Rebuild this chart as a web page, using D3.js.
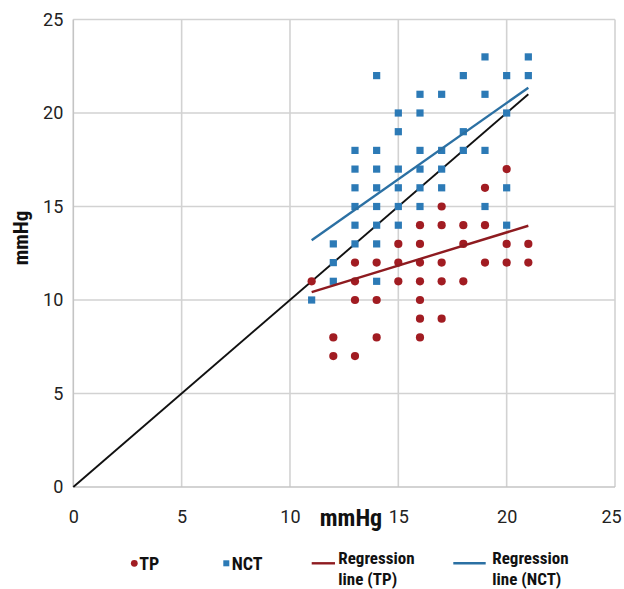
<!DOCTYPE html>
<html><head><meta charset="utf-8">
<script src="https://cdn.jsdelivr.net/npm/d3@7"></script>
<style>body{margin:0;background:#fff}</style>
</head><body>
<svg id="c" width="624" height="589"></svg>
<script>
// ---- data ----
const tpX = [11,12,12,13,13,13,13,14,14,14,15,15,15,16,16,16,16,16,16,16,17,17,17,17,17,18,18,18,19,19,19,20,20,20,21,21];
const tpY = [11, 8, 7,12,11,10, 7,12,10, 8,13,12,11,14,13,12,11,10, 9, 8,15,14,12,11, 9,14,13,11,16,14,12,17,13,12,13,12];
const nctX = [11,12,12,12,13,13,13,13,13,13,14,14,14,14,14,14,14,14,15,15,15,15,15,15,16,16,16,16,16,16,17,17,17,17,18,18,18,19,19,19,19,20,20,20,20,21,21];
const nctY = [10,13,12,11,18,17,16,15,14,13,22,18,17,16,15,14,13,11,20,19,17,16,15,14,21,20,18,17,16,15,21,18,17,16,22,19,18,23,21,18,15,22,20,16,14,23,22];
const regTPx = [11, 21];
const regTPy = [10.42, 13.97];
const regNCTx = [11, 21];
const regNCTy = [13.2, 21.35];
const identX = [0, 21];
const identY = [0, 21];
const xTicks = [0,5,10,15,20,25];
const yTicks = [0,5,10,15,20,25];
const axisTitle = "mmHg";
const legendNames = ["TP","NCT","Regression line (TP)","Regression line (NCT)"];

// ---- drawing ----
const svg = d3.select("#c");
const x = d3.scaleLinear().domain([0,25]).range([73.3,615]);
const y = d3.scaleLinear().domain([0,25]).range([487,19.5]);
const condensed = "'Liberation Sans Narrow','Roboto Condensed','DejaVu Sans Condensed',sans-serif";
const red = "#a11c22", blue = "#2c7ab6", redLine = "#8e1b20", blueLine = "#2b70a3";

// grid
const g = svg.append("g");
g.selectAll("line.v").data(xTicks.filter(d=>d>0)).join("line")
  .attr("x1",d=>x(d)).attr("x2",d=>x(d)).attr("y1",y(0)).attr("y2",y(25))
  .attr("stroke","#d2d2d2").attr("stroke-width",1.6);
g.selectAll("line.h").data(yTicks.filter(d=>d>0)).join("line")
  .attr("x1",x(0)).attr("x2",x(25)).attr("y1",d=>y(d)).attr("y2",d=>y(d))
  .attr("stroke","#d2d2d2").attr("stroke-width",1.6);
g.append("line").attr("x1",x(0)).attr("x2",x(0)).attr("y1",y(0)).attr("y2",y(25)).attr("stroke","#c4c4c4").attr("stroke-width",1.6);
g.append("line").attr("x1",x(0)).attr("x2",x(25)).attr("y1",y(0)).attr("y2",y(0)).attr("stroke","#c4c4c4").attr("stroke-width",1.6);

// tick labels via axes
const ax = svg.append("g").attr("transform",`translate(0,${y(0)})`)
  .call(d3.axisBottom(x).tickValues(xTicks).tickSize(0).tickPadding(23).tickFormat(d3.format("d")));
const ay = svg.append("g").attr("transform",`translate(${x(0)},0)`)
  .call(d3.axisLeft(y).tickValues(yTicks).tickSize(0).tickPadding(10).tickFormat(d3.format("d")));
[ax,ay].forEach(a=>{
  a.select(".domain").remove();
  a.selectAll("text").attr("font-family","Roboto, sans-serif").attr("font-size",18).attr("fill","#222");
});
ax.selectAll("text").filter(d=>d===25).attr("dx",-4);

// axis titles
svg.append("text").attr("x",351).attr("y",526).attr("text-anchor","middle")
  .attr("font-family",condensed).attr("font-weight","bold").attr("font-size",24).attr("fill","#111")
  .text(axisTitle);
svg.append("text").attr("transform","translate(28,238) rotate(-90)").attr("text-anchor","middle")
  .attr("font-family",condensed).attr("font-weight","bold").attr("font-size",21).attr("fill","#111")
  .text(axisTitle);

// identity line
const line = d3.line().x(d=>x(d[0])).y(d=>y(d[1]));
svg.append("path").datum(d3.zip(identX,identY)).attr("d",line)
  .attr("stroke","#111").attr("stroke-width",1.9).attr("fill","none");

// points
svg.append("g").selectAll("rect").data(d3.zip(nctX,nctY)).join("rect")
  .attr("x",d=>x(d[0])-3.6).attr("y",d=>y(d[1])-3.6).attr("width",7.2).attr("height",7.2)
  .attr("fill",blue);
svg.append("g").selectAll("circle").data(d3.zip(tpX,tpY)).join("circle")
  .attr("cx",d=>x(d[0])).attr("cy",d=>y(d[1])).attr("r",4.1).attr("fill",red);

// regression lines
svg.append("path").datum(d3.zip(regNCTx,regNCTy)).attr("d",line)
  .attr("stroke",blueLine).attr("stroke-width",2.4).attr("fill","none");
svg.append("path").datum(d3.zip(regTPx,regTPy)).attr("d",line)
  .attr("stroke",redLine).attr("stroke-width",2.4).attr("fill","none");

// legend
const leg = svg.append("g").attr("font-family",condensed).attr("font-weight","bold").attr("font-size",18).attr("fill","#111");
leg.append("circle").attr("cx",134.3).attr("cy",563.3).attr("r",3.4).attr("fill",red);
leg.append("text").attr("x",139.3).attr("y",569.5).text(legendNames[0]);
leg.append("rect").attr("x",223.3).attr("y",560.3).attr("width",6).attr("height",6).attr("fill",blue);
leg.append("text").attr("x",231.7).attr("y",569.5).text(legendNames[1]);
leg.append("line").attr("x1",311.7).attr("x2",335).attr("y1",563.3).attr("y2",563.3).attr("stroke",redLine).attr("stroke-width",2.4);
leg.append("line").attr("x1",453.3).attr("x2",485.7).attr("y1",563.3).attr("y2",563.3).attr("stroke",blueLine).attr("stroke-width",2.4);
function twoLine(txt, x0){
  const i = txt.indexOf(" ");
  leg.append("text").attr("x",x0).attr("y",564).attr("font-size",17).text(txt.slice(0,i));
  leg.append("text").attr("x",x0).attr("y",584.6).attr("font-size",17).text(txt.slice(i+1));
}
twoLine(legendNames[2],338.3);
twoLine(legendNames[3],492.3);
</script>
</body></html>
